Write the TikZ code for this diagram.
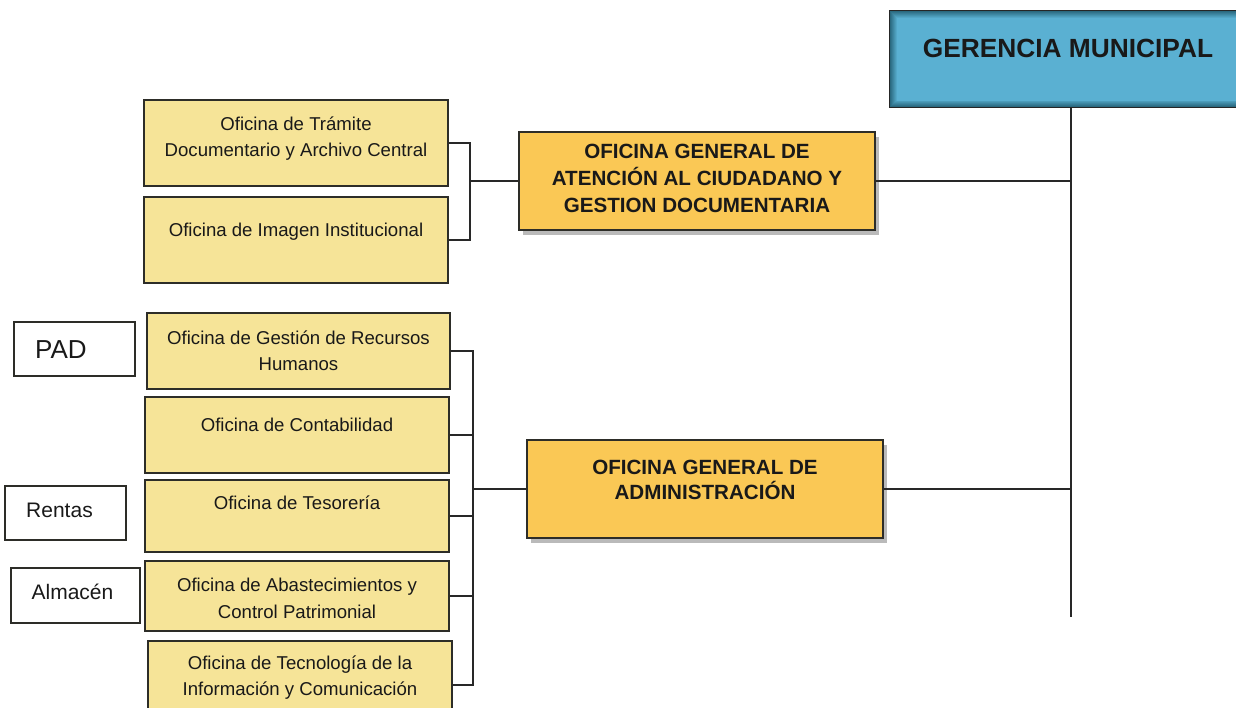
\documentclass[tikz,border=0pt]{standalone}
\usepackage{fontspec}
\setmainfont{Liberation Sans}
\usetikzlibrary{shadows}
\definecolor{subyel}{RGB}{246,228,152}
\definecolor{ogyel}{RGB}{250,200,85}
\definecolor{gmblue}{RGB}{90,176,210}
\definecolor{gmdark}{RGB}{35,95,115}
\definecolor{boxline}{RGB}{45,45,40}
\definecolor{conline}{RGB}{40,40,40}
\begin{document}
\begin{tikzpicture}[x=1pt,y=-1pt,
  subbox/.style={draw=boxline, line width=1.4, fill=subyel, inner sep=0pt},
  ogbox/.style={draw=boxline, line width=1.6, fill=ogyel, inner sep=0pt,
    drop shadow={shadow xshift=4pt, shadow yshift=-5pt, opacity=0.45, fill=black!60}},
  sidebox/.style={draw=boxline, line width=1.2, fill=white, inner sep=0pt},
  subtxt/.style={align=center, font=\fontsize{18.6}{26.5}\selectfont, text=black!90},
  ogtxt/.style={align=center, font=\fontsize{20.6}{27}\selectfont\bfseries, text=black!90},
  sidetxt/.style={font=\fontsize{21}{24}\selectfont, text=black!90},
  con/.style={draw=conline, line width=1.6}
]
\useasboundingbox (0,0) rectangle (1236,707);

% GERENCIA MUNICIPAL
\node[inner sep=0pt, minimum width=360, minimum height=96, fill=gmdark, draw=black!85, line width=1.4] (gm) at (1070,59) {};
\foreach \i in {1,...,8}{
  \pgfmathsetmacro{\p}{\i*12.5}
  \fill[gmblue!\p!gmdark] ([xshift=\i*0.9pt, yshift=-\i*0.9pt]gm.north west) rectangle ([xshift=-\i*0.9pt, yshift=\i*0.9pt]gm.south east);
}
\draw[black!85, line width=1.4] (gm.north west) rectangle (gm.south east);
\node[font=\fontsize{26.3}{30}\selectfont\bfseries, text=black!90] (gmt) at (1068,48) {GERENCIA MUNICIPAL};
\coordinate (gend) at (1071,617);

% Oficina general de atencion
\node[ogbox, minimum width=356, minimum height=98] (og1) at (697,181) {};
\node[ogtxt] (og1t) at (697,178) {OFICINA GENERAL DE\\ATENCIÓN AL CIUDADANO Y\\GESTION DOCUMENTARIA};

\node[subbox, minimum width=304, minimum height=86] (t1) at (296,143) {};
\node[subtxt] (t1t) at (296,138.5) {Oficina de Trámite\\Documentario y Archivo Central};
\node[subbox, minimum width=304, minimum height=86] (t2) at (296,240) {};
\node[subtxt] (t2t) at (296,232) {Oficina de Imagen Institucional};

\coordinate (j1) at (470,186);
\draw[con] (t1.east) -- (t1.east -| j1) -- (t2.east -| j1) -- (t2.east);
\draw[con] (j1 |- og1.west) -- (og1.west);
\draw[con] (og1.east) -- (og1.east -| gend);

% Oficina general de administracion
\node[ogbox, minimum width=356, minimum height=98] (og2) at (705,489) {};
\node[ogtxt, font=\fontsize{20.6}{25}\selectfont\bfseries] (og2t) at (705,479.5) {OFICINA GENERAL DE\\ADMINISTRACIÓN};

\node[subbox, minimum width=303, minimum height=76] (r1) at (298.5,351) {};
\node[subtxt] (r1t) at (298.5,350.5) {Oficina de Gestión de Recursos\\Humanos};
\node[subbox, minimum width=304, minimum height=76] (r2) at (297,435) {};
\node[subtxt] (r2t) at (297,425) {Oficina de Contabilidad};
\node[subbox, minimum width=304, minimum height=72] (r3) at (297,516) {};
\node[subtxt] (r3t) at (297,503) {Oficina de Tesorería};
\node[subbox, minimum width=304, minimum height=70] (r4) at (297,596) {};
\node[subtxt] (r4t) at (297,598.5) {Oficina de Abastecimientos y\\Control Patrimonial};
\node[subbox, minimum width=304, minimum height=88] (r5) at (300,685) {};
\node[subtxt] (r5t) at (300,677.5) {Oficina de Tecnología de la\\Información y Comunicación};

\coordinate (j2) at (473,483);
\draw[con] (r1.east) -- (r1.east -| j2) -- (r5.east -| j2) -- (r5.east);
\draw[con] (r2.east) -- (r2.east -| j2);
\draw[con] (r3.east) -- (r3.east -| j2);
\draw[con] (r4.east) -- (r4.east -| j2);
\draw[con] (j2 |- og2.west) -- (og2.west);
\draw[con] (og2.east) -- (og2.east -| gend);

% vertical trunk
\draw[con] (gm.south -| gend) -- (gend);

% side boxes
\node[sidebox, minimum width=121, minimum height=54] (pad) at (74.5,349) {};
\node[sidetxt, font=\fontsize{26}{30}\selectfont] (padt) at (61,350) {PAD};
\node[sidebox, minimum width=121, minimum height=54] (rentas) at (65.5,513) {};
\node[sidetxt] (rentast) at (59.5,510) {Rentas};
\node[sidebox, minimum width=129, minimum height=55] (alm) at (75.5,595.5) {};
\node[sidetxt] (almt) at (72.5,592) {Almacén};
\end{tikzpicture}
\end{document}
